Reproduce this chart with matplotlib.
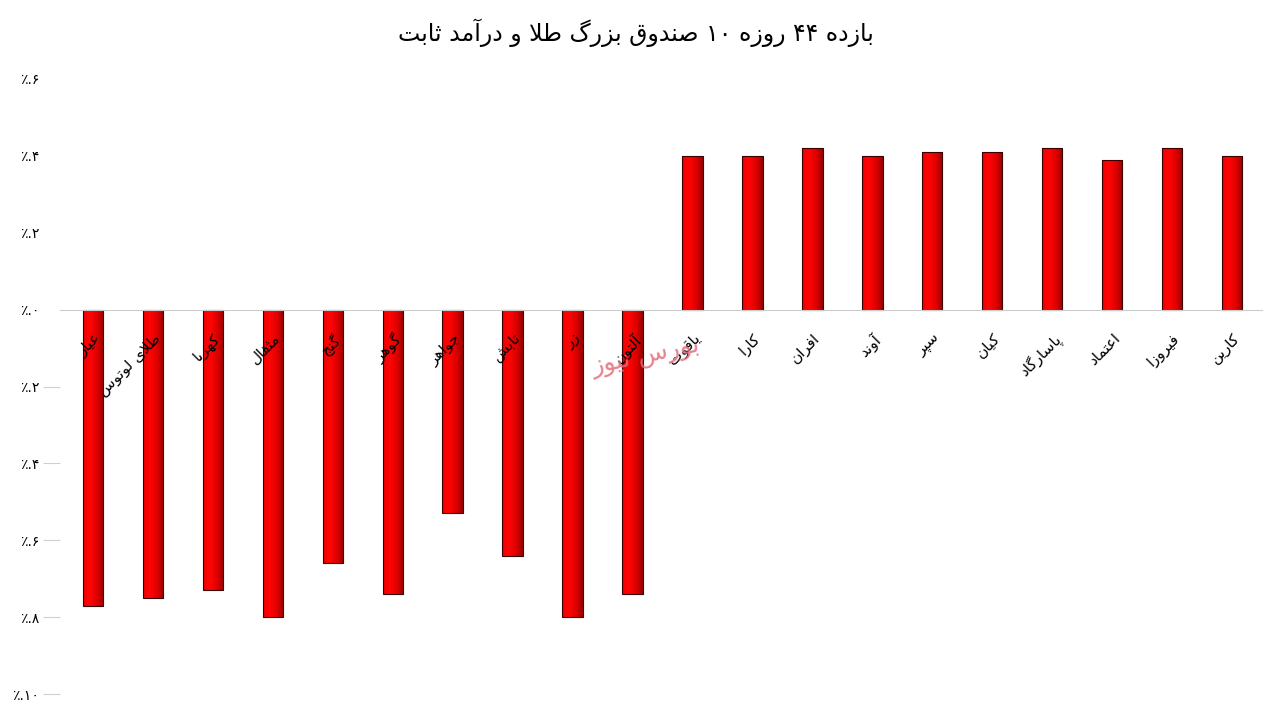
import re
import numpy as np
import matplotlib
matplotlib.use('Agg')
import matplotlib.pyplot as plt
from matplotlib.colors import LinearSegmentedColormap

plt.rcParams['font.family'] = ['DejaVu Sans']

# data (percent)
funds = ['عیار', 'طلای لوتوس', 'کهربا', 'مثقال', 'گنج', 'گوهر', 'جواهر', 'تابش', 'زر', 'آلتون',
         'یاقوت', 'کارا', 'افران', 'آوند', 'سپر', 'کیان', 'پاسارگاد', 'اعتماد', 'فیروزا', 'کارین']
returns = [-0.77, -0.75, -0.73, -0.80, -0.66, -0.74, -0.53, -0.64, -0.80, -0.74,
           0.40, 0.40, 0.42, 0.40, 0.41, 0.41, 0.42, 0.39, 0.42, 0.40]
yticks = [0.6, 0.4, 0.2, 0.0, -0.2, -0.4, -0.6, -0.8, -1.0]
ytick_labels = ['٪.۶', '٪.۴', '٪.۲', '٪.۰', '٪.۲', '٪.۴', '٪.۶', '٪.۸', '٪.۱۰']
title = 'بازده ۴۴ روزه ۱۰ صندوق بزرگ طلا و درآمد ثابت'
watermark = 'بورس نیوز'

# matplotlib does no arabic shaping, so pick presentation forms by hand
FORMS = {
    'ا': (0xFE8D, 0xFE8E), 'آ': (0xFE81, 0xFE82), 'د': (0xFEA9, 0xFEAA),
    'ذ': (0xFEAB, 0xFEAC), 'ر': (0xFEAD, 0xFEAE), 'ز': (0xFEAF, 0xFEB0),
    'ژ': (0xFB8A, 0xFB8B), 'و': (0xFEED, 0xFEEE),
    'ب': 0xFE8F, 'ت': 0xFE95, 'ث': 0xFE99, 'ج': 0xFE9D, 'ح': 0xFEA1, 'خ': 0xFEA5,
    'س': 0xFEB1, 'ش': 0xFEB5, 'ص': 0xFEB9, 'ض': 0xFEBD, 'ط': 0xFEC1, 'ظ': 0xFEC5,
    'ع': 0xFEC9, 'غ': 0xFECD, 'ف': 0xFED1, 'ق': 0xFED5, 'ل': 0xFEDD, 'م': 0xFEE1,
    'ن': 0xFEE5, 'ه': 0xFEE9, 'پ': 0xFB56, 'چ': 0xFB7A, 'ک': 0xFB8E, 'گ': 0xFB92,
    'ی': 0xFBFC,
}
DIGITS = '۰۱۲۳۴۵۶۷۸۹0123456789'


def shape(word):
    out = []
    i = 0
    n = len(word)
    while i < n:
        c = word[i]
        if c not in FORMS:
            out.append(c)
            i += 1
            continue
        prev = word[i - 1] if i > 0 else ''
        joins_prev = int(isinstance(FORMS.get(prev), int))
        if c == 'ل' and i + 1 < n and word[i + 1] in 'اآ':
            lig = {'ا': 0xFEFB, 'آ': 0xFEF5}[word[i + 1]]
            out.append(chr(lig + joins_prev))
            i += 2
            continue
        nxt = word[i + 1] if i + 1 < n else ''
        f = FORMS[c]
        if isinstance(f, int):
            joins_next = int(nxt in FORMS)
            out.append(chr(f + [[0, 2], [1, 3]][joins_prev][joins_next]))
        else:
            out.append(chr(f[joins_prev]))
        i += 1
    return ''.join(out)


def fa(text):
    parts = re.findall('[' + DIGITS + ']+|[^' + DIGITS + ']+', shape(text))
    return ''.join(p if p[0] in DIGITS else p[::-1] for p in reversed(parts))


fig = plt.figure(figsize=(12.72, 7.17), dpi=100)
ax = fig.add_axes([60 / 1272, 1 - 694 / 717, 1202 / 1272, 615 / 717])
ax.set_axisbelow(False)

# move the x axis to zero first, this resets the tick objects
ax.spines['bottom'].set_position(('data', 0))
ax.spines['bottom'].set_color('#cccccc')
for s in ['top', 'right', 'left']:
    ax.spines[s].set_visible(False)

x = np.arange(len(funds))
bars = ax.bar(x, returns, width=0.34, facecolor='none', edgecolor='#3a0000',
              linewidth=0.8, zorder=2)

cmap = LinearSegmentedColormap.from_list('redbar', ['#f00000', '#ff0505', '#e00000', '#9a0000'])
grad = np.linspace(0, 1, 64).reshape(1, -1)
for b in bars:
    x0, w = b.get_x(), b.get_width()
    y0, h = b.get_y(), b.get_height()
    im = ax.imshow(grad, extent=[x0, x0 + w, min(y0, y0 + h), max(y0, y0 + h)],
                   aspect='auto', cmap=cmap, zorder=1.9, interpolation='bilinear')
    im.set_clip_path(b)

ax.set_xlim(-0.55, len(funds) - 0.5)
ax.set_ylim(-1.0, 0.6)

ax.set_xticks(x)
ax.set_xticklabels([fa(f) for f in funds], rotation=45, ha='right', va='top',
                   rotation_mode='anchor', fontsize=11)
ax.tick_params(axis='x', length=0, pad=15)

ax.set_yticks(yticks)
ax.set_yticklabels(ytick_labels, fontsize=10)
ax.tick_params(axis='y', length=12, color='#d0d0d0', pad=3)
for t, v in zip(ax.yaxis.get_major_ticks(), yticks):
    if v >= 0:
        t.tick1line.set_visible(False)

fig.text(0.5, 1 - 33 / 717, fa(title), ha='center', va='center', fontsize=17)
fig.text(645 / 1272, 1 - 357 / 717, fa(watermark), ha='center', va='center',
         fontsize=18, color='#e36b7a', alpha=0.85, rotation=12, zorder=5)

fig.savefig('out.png', dpi=100)
